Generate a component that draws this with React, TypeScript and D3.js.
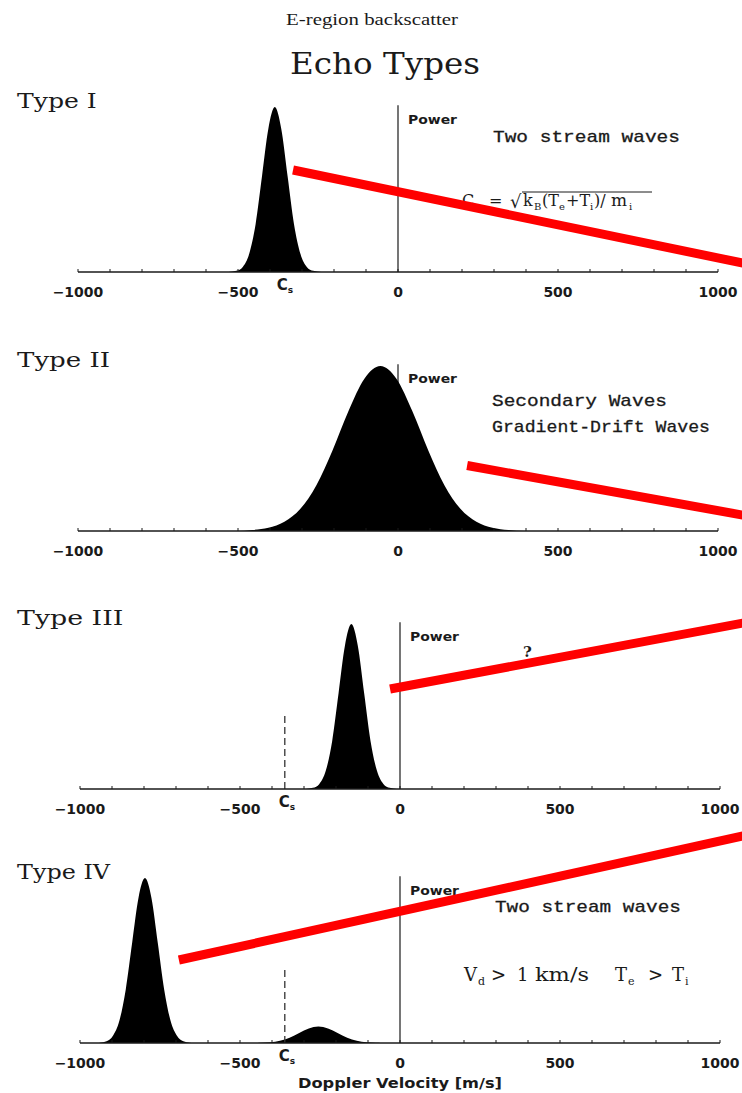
import React from "react";
import * as d3 from "d3";

// ---- data ---------------------------------------------------------------
const velocityTicks = [-1000, -500, 0, 500, 1000];
const minorTickStep = 100;
const velocityDomain: [number, number] = [-1000, 1000];
const panelTitles = ["Type I", "Type II", "Type III", "Type IV"];
const ionAcousticSpeed = -360; // C_s in m/s

// Doppler spectra: [velocity m/s, relative power]
const typeISpectrum: [number, number][] = [
  [-1000, 0], [-530, 0], [-505, 0.007], [-485, 0.031], [-465, 0.11], [-445, 0.29],
  [-425, 0.58], [-405, 0.87], [-385, 1], [-365, 0.87], [-345, 0.58], [-325, 0.29],
  [-305, 0.11], [-285, 0.031], [-265, 0.007], [-240, 0], [1000, 0],
];
const typeIISpectrum: [number, number][] = [
  [-1000, 0], [-505, 0], [-455, 0.006], [-405, 0.02], [-355, 0.056], [-305, 0.135],
  [-255, 0.278], [-205, 0.487], [-155, 0.726], [-105, 0.923], [-55, 1], [-5, 0.923],
  [45, 0.726], [95, 0.487], [145, 0.278], [195, 0.135], [245, 0.056], [295, 0.02],
  [345, 0.006], [395, 0], [1000, 0],
];
const typeIIISpectrum: [number, number][] = [
  [-1000, 0], [-295, 0], [-272, 0.007], [-252, 0.031], [-232, 0.11], [-212, 0.29],
  [-192, 0.58], [-172, 0.87], [-152, 1], [-132, 0.87], [-112, 0.58], [-92, 0.29],
  [-72, 0.11], [-52, 0.031], [-32, 0.007], [-10, 0], [1000, 0],
];
const typeIVSpectrum: [number, number][] = [
  [-1000, 0], [-945, 0], [-937, 0.002], [-917, 0.011], [-897, 0.044], [-877, 0.135],
  [-857, 0.325], [-837, 0.607], [-817, 0.882], [-797, 1], [-777, 0.882], [-757, 0.607],
  [-737, 0.325], [-717, 0.135], [-697, 0.044], [-677, 0.011], [-657, 0.002], [-645, 0],
  [-445, 0], [-435, 0.001], [-405, 0.0044], [-375, 0.0135], [-345, 0.0325], [-315, 0.0607],
  [-285, 0.0882], [-255, 0.1], [-225, 0.0882], [-195, 0.0607], [-165, 0.0325],
  [-135, 0.0135], [-105, 0.0044], [-75, 0.001], [-60, 0], [1000, 0],
];
const spectra = [typeISpectrum, typeIISpectrum, typeIIISpectrum, typeIVSpectrum];
const csLabelShown = [true, false, true, true];
const csGuideShown = [false, false, true, true];
const csGuideTop = 0.46;

// red highlight strokes, [v0, p0, v1, p1] in each panel's data space
const highlightStrokes: [number, number, number, number][] = [
  [-328, 0.618, 1080, 0.053],
  [216, 0.397, 1081, 0.095],
  [-31, 0.606, 1075, 1.007],
  [-691, 0.503, 1075, 1.257],
];

// ---- layout -------------------------------------------------------------
const W = 742;
const H = 1093;
const panelAxisY = [272, 531, 789, 1043];
const panelXRange: [number, number][] = [[78, 718], [78, 718], [80, 720], [80, 720]];
const peakHeight = 165;

const INK = "#1a1a1a";
const SANS = "DejaVu Sans";
const SERIF = "DejaVu Serif";
const MONO = "Liberation Mono";

function Panel({ i }: { i: number }) {
  const axisY = panelAxisY[i];
  const x = d3.scaleLinear().domain(velocityDomain).range(panelXRange[i]);
  const y = d3.scaleLinear().domain([0, 1]).range([axisY, axisY - peakHeight]);
  const area = d3
    .area<[number, number]>()
    .x((d) => x(d[0]))
    .y0(axisY)
    .y1((d) => y(d[1]))
    .curve(d3.curveMonotoneX);
  const minor = d3.range(velocityDomain[0], velocityDomain[1] + 1, minorTickStep);
  const [v0, p0, v1, p1] = highlightStrokes[i];
  return (
    <g>
      <text x={17} y={axisY - 164} fontFamily={SERIF} fontSize={21} fill={INK}
        textLength={panelTitles[i].length * 13.3} lengthAdjust="spacingAndGlyphs">
        {panelTitles[i]}
      </text>
      {/* Power axis at zero velocity */}
      <line x1={x(0)} x2={x(0)} y1={y(0)} y2={y(1.01)} stroke={INK} strokeWidth={1.2} />
      <text x={x(0) + 10} y={axisY - 148} fontFamily={SANS} fontWeight="bold" fontSize={13}
        fill={INK} textLength={49} lengthAdjust="spacingAndGlyphs">Power</text>
      <path d={area(spectra[i]) || ""} fill="#000" />
      {csGuideShown[i] && (
        <line x1={x(ionAcousticSpeed)} x2={x(ionAcousticSpeed)} y1={y(0)} y2={y(csGuideTop)}
          stroke="#333" strokeWidth={1.3} strokeDasharray="7,4" />
      )}
      {/* velocity axis */}
      <line x1={x(velocityDomain[0])} x2={x(velocityDomain[1])} y1={axisY} y2={axisY}
        stroke={INK} strokeWidth={1.4} />
      {minor.map((v) => (
        <line key={v} x1={x(v)} x2={x(v)} y1={axisY} y2={axisY - 3} stroke={INK} strokeWidth={1} />
      ))}
      {velocityTicks.map((v) => (
        <text key={v} x={x(v)} y={axisY + 25} textAnchor="middle" fontFamily={SANS}
          fontWeight="bold" fontSize={14} fill={INK}>
          {v < 0 ? "\u2212" + Math.abs(v) : String(v)}
        </text>
      ))}
      {csLabelShown[i] && (
        <text x={x(ionAcousticSpeed) - 6} y={axisY + 18} fontFamily={SANS} fontWeight="bold"
          fontSize={15} fill={INK}>
          C<tspan fontSize={9} dy={3}>s</tspan>
        </text>
      )}
      <line x1={x(v0)} y1={y(p0)} x2={x(v1)} y2={y(p1)} stroke="#ff0000" strokeWidth={9}
        data-layer="highlight" />
    </g>
  );
}

export default function App() {
  return (
    <svg width={W} height={H} viewBox={`0 0 ${W} ${H}`}
      style={{ position: "absolute", left: 0, top: 0, background: "#fff" }}>
      <rect width={W} height={H} fill="#fff" />
      <text x={286} y={25} fontFamily="Liberation Serif" fontSize={16.5} fill={INK}
        textLength={172} lengthAdjust="spacingAndGlyphs">E-region backscatter</text>
      <text x={290} y={74} fontFamily={SERIF} fontSize={29} fill={INK}
        textLength={190} lengthAdjust="spacingAndGlyphs">Echo Types</text>

      {/* panel annotations drawn beneath the red strokes */}
      <text x={493} y={142} fontFamily={MONO} fontSize={17} fill={INK} stroke={INK}
        strokeWidth={0.3} textLength={187} lengthAdjust="spacingAndGlyphs">Two stream waves</text>
      <g fontFamily={SERIF} fill={INK}>
        <text x={462} y={206} fontSize={16}>C</text>
        <text x={474} y={210} fontSize={10}>s</text>
        <text x={489} y={206} fontSize={16}>=</text>
        <text x={510} y={208} fontSize={18}>{"\u221A"}</text>
        <text x={523} y={206} fontSize={16}>k</text>
        <text x={534} y={210} fontSize={10}>B</text>
        <text x={542} y={206} fontSize={16}>(T</text>
        <text x={559} y={210} fontSize={10}>e</text>
        <text x={566} y={206} fontSize={16}>+T</text>
        <text x={590} y={210} fontSize={10}>i</text>
        <text x={594} y={206} fontSize={16}>)/</text>
        <text x={611} y={206} fontSize={17}>m</text>
        <text x={629} y={210} fontSize={10}>i</text>
        <line x1={522} x2={652} y1={192} y2={192} stroke={INK} strokeWidth={1} />
      </g>

      <text x={492} y={406} fontFamily={MONO} fontSize={17} fill={INK} stroke={INK}
        strokeWidth={0.3} textLength={175} lengthAdjust="spacingAndGlyphs">Secondary Waves</text>
      <text x={492} y={432} fontFamily={MONO} fontSize={17} fill={INK} stroke={INK}
        strokeWidth={0.3} textLength={218} lengthAdjust="spacingAndGlyphs">Gradient-Drift Waves</text>

      <text x={523} y={657} fontFamily={SERIF} fontSize={15} fontWeight="bold" fill={INK}>?</text>

      <text x={495} y={912} fontFamily={MONO} fontSize={17} fill={INK} stroke={INK}
        strokeWidth={0.3} textLength={186} lengthAdjust="spacingAndGlyphs">Two stream waves</text>
      <g fontFamily={SERIF} fill={INK} fontSize={18}>
        <text x={464} y={981}>V</text>
        <text x={478} y={985} fontSize={11}>d</text>
        <text x={491} y={981}>&gt;</text>
        <text x={517} y={981}>1</text>
        <text x={535} y={981} textLength={54} lengthAdjust="spacingAndGlyphs">km/s</text>
        <text x={615} y={981}>T</text>
        <text x={628} y={985} fontSize={11}>e</text>
        <text x={648} y={981}>&gt;</text>
        <text x={672} y={981}>T</text>
        <text x={685} y={985} fontSize={11}>i</text>
      </g>
      <text x={298} y={1088} fontFamily={SANS} fontWeight="bold" fontSize={14} fill={INK}
        textLength={204} lengthAdjust="spacingAndGlyphs">Doppler Velocity  [m/s]</text>

      {panelTitles.map((_, i) => (
        <Panel key={i} i={i} />
      ))}
    </svg>
  );
}
